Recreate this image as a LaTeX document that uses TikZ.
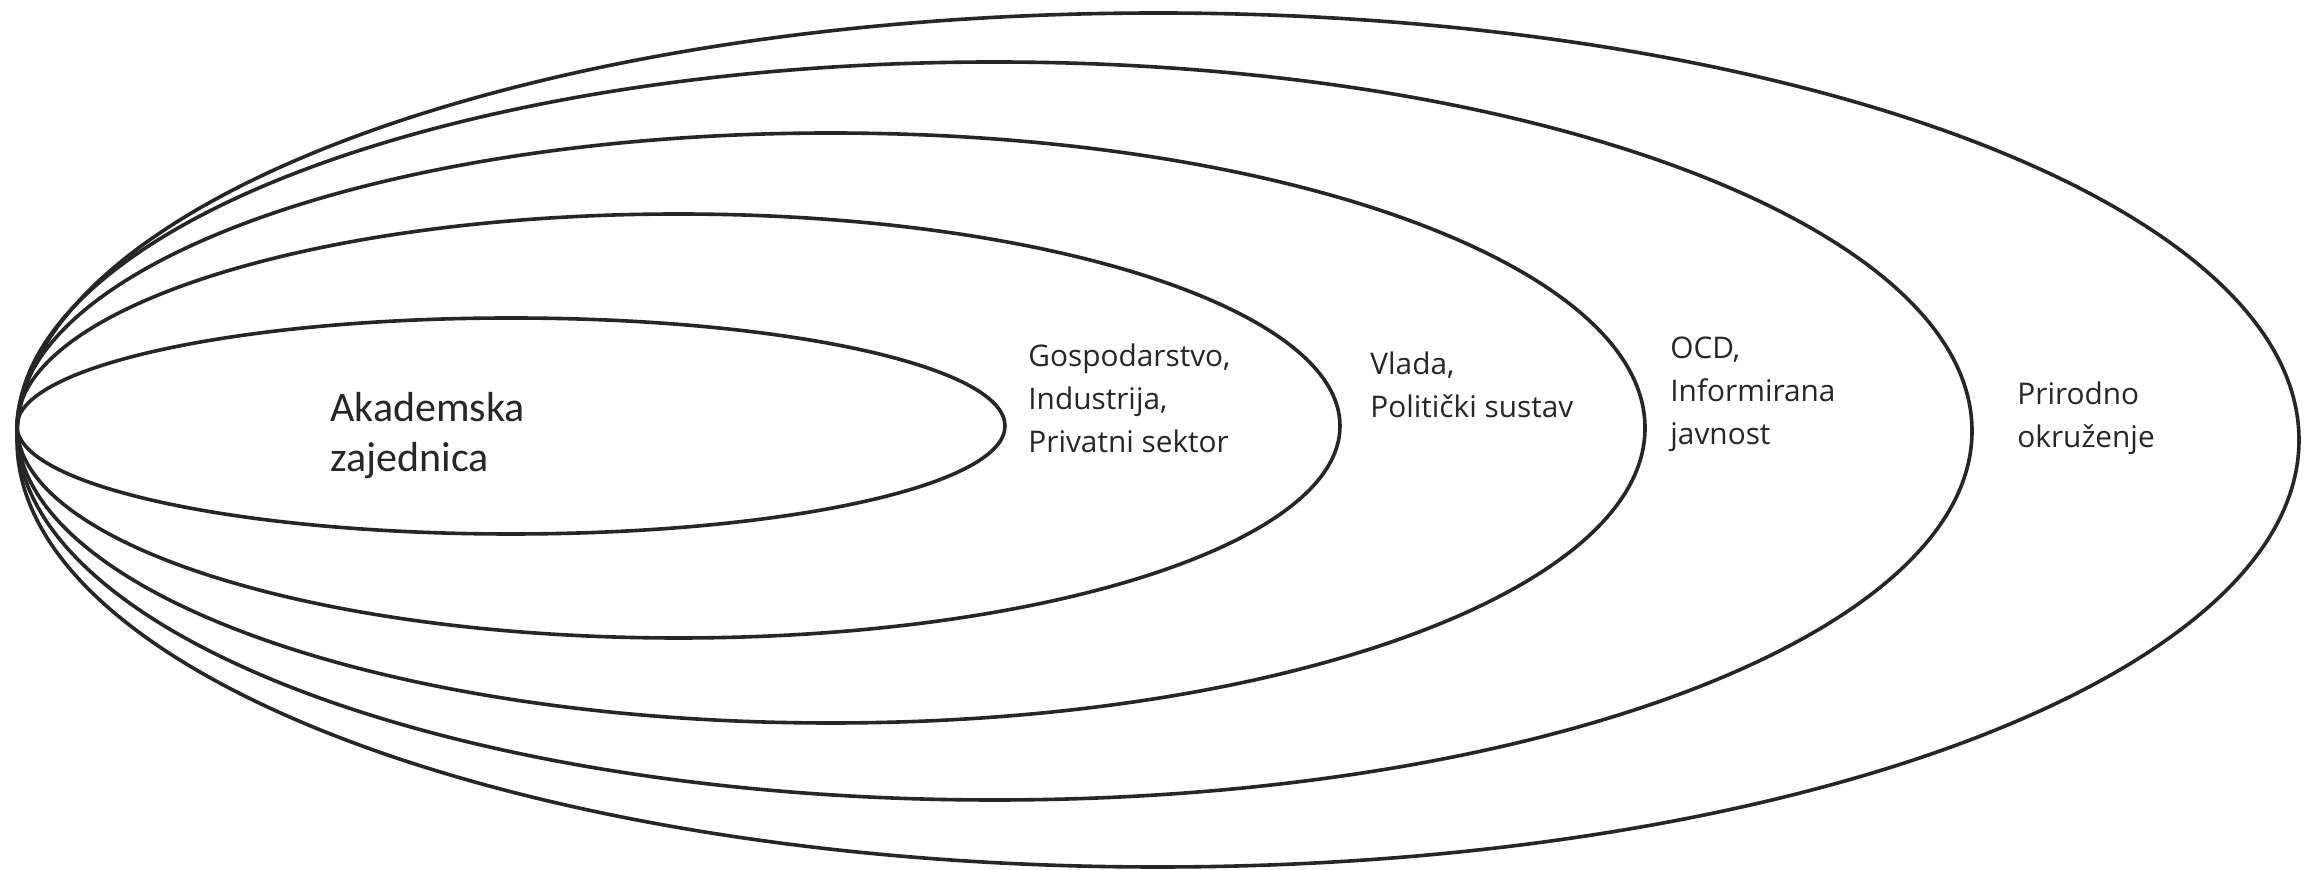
\documentclass[tikz,border=0pt]{standalone}
\usepackage{fontspec}
\newfontfamily\lblfont{Open Sans}
\newfontfamily\akfont{Carlito}
\tikzset{
  ring/.style={draw=black!85, line width=1.8pt},
  lbl/.style={font=\lblfont\fontsize{14.9pt}{21.5pt}\selectfont, align=left, inner sep=0pt, anchor=base west, text=black!85},
  biglbl/.style={font=\akfont\fontsize{21pt}{25pt}\selectfont, align=left, inner sep=0pt, anchor=base west, text=black!85}
}
\begin{document}
\begin{tikzpicture}[x=0.5pt, y=-0.5pt]
\useasboundingbox[fill=white] (0,0) rectangle (2314,870);
% nested ellipses, all touching at the left
\draw[ring] (511,426) ellipse [x radius=494, y radius=108];
\draw[ring] (678.5,426) ellipse [x radius=661.5, y radius=212];
\draw[ring] (831,428) ellipse [x radius=814, y radius=295];
\draw[ring] (994.5,431) ellipse [x radius=977.5, y radius=369];
\draw[ring] (1158,440) ellipse [x radius=1141, y radius=427];
% labels (anchored at the baseline of their last line)
\node[biglbl] (ak) at (330,472) {Akademska\\zajednica};
\node[lbl] (gos) at (1028,453) {Gospodarstvo,\\Industrija,\\Privatni sektor};
\node[lbl] (vl) at (1370,418) {Vlada,\\Politički sustav};
\node[lbl] (ocd) at (1670,445) {OCD,\\Informirana\\javnost};
\node[lbl] (pri) at (2017,448) {Prirodno\\okruženje};
\end{tikzpicture}
\end{document}
